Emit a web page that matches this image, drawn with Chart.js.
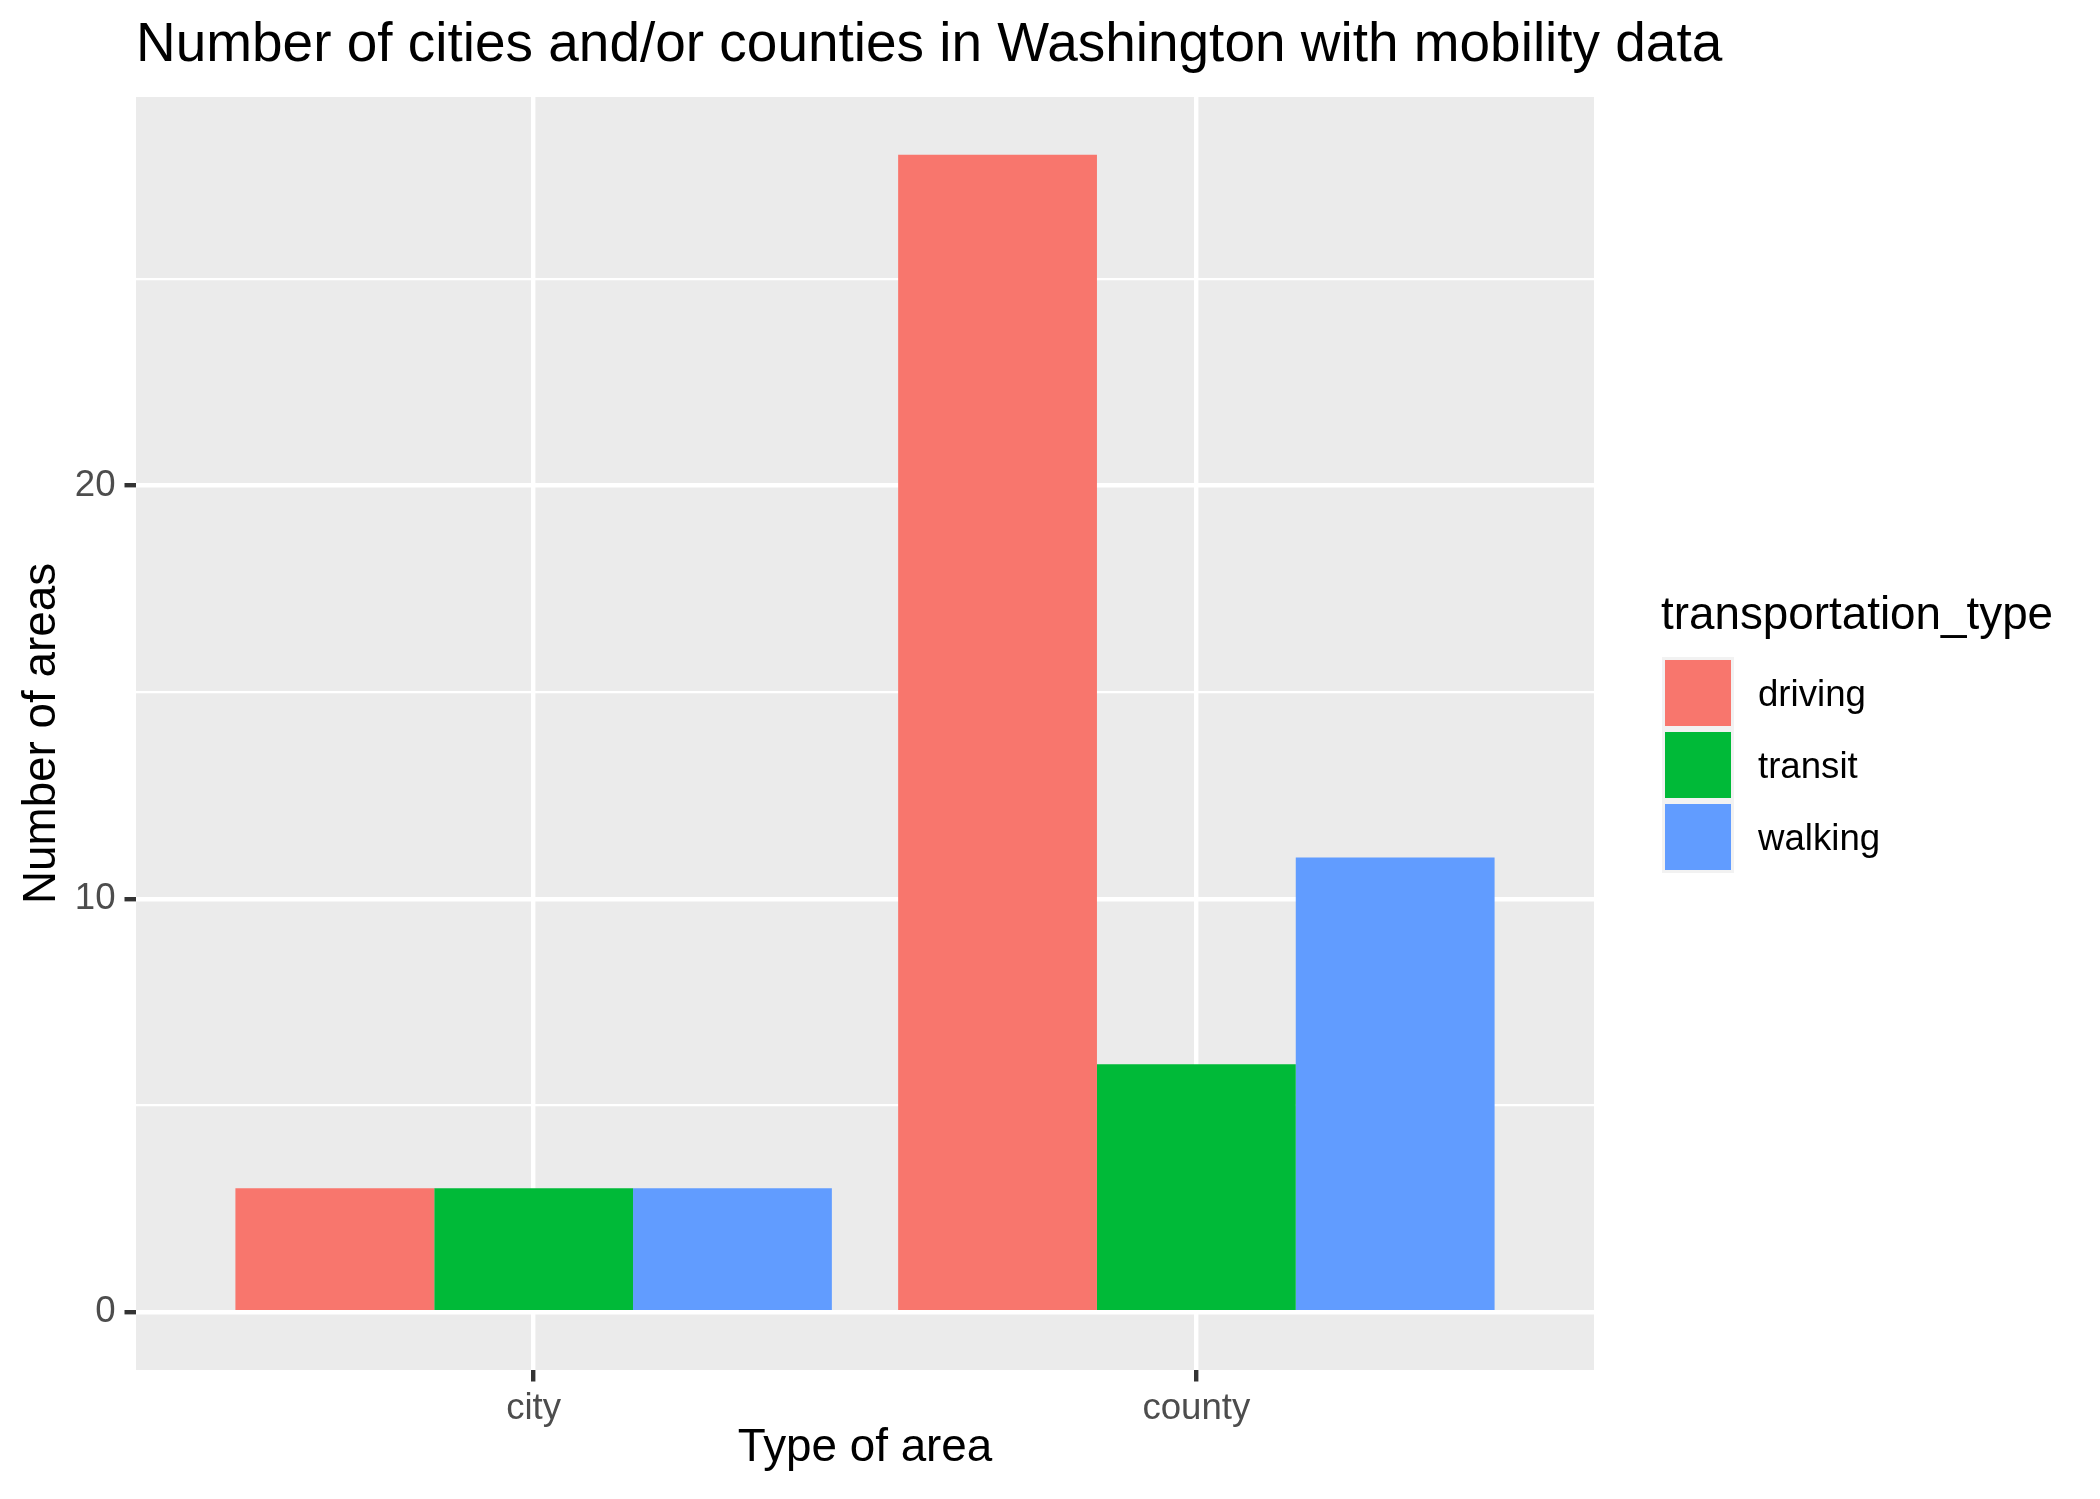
<!DOCTYPE html>
<html>
<head>
  <title>Washington mobility data</title>
  <script src="https://cdn.jsdelivr.net/npm/chart.js"></script>
  <style>
    body { margin: 0; background: white; }
    #wrap { width: 2100px; height: 1499px; }
  </style>
</head>
<body>
  <div id="wrap">
    <canvas id="chart" width="2100" height="1499"></canvas>
  </div>
  <script>
    // donnees
    var categories = ['city', 'county'];
    var seriesNames = ['driving', 'transit', 'walking'];
    var driving = [3, 28];
    var transit = [3, 6];
    var walking = [3, 11];
    var yTicks = [0, 5, 10, 15, 20, 25];
    var yLabels = [0, 10, 20];

    var titleText = 'Number of cities and/or counties in Washington with mobility data';
    var legendTitle = 'transportation_type';
    var colors = ['#F8766D', '#00BA38', '#619CFF'];
    var font = '"Liberation Sans", Arial, sans-serif';
    var base = 45.8;

    function toPoints(values) {
      return categories.map(function(c, i) { return { x: i + 1, y: values[i] }; });
    }

    var series = [driving, transit, walking];
    var datasets = seriesNames.map(function(name, i) {
      return {
        label: name,
        data: toPoints(series[i]),
        backgroundColor: colors[i],
        borderWidth: 0,
        categoryPercentage: 0.9,
        barPercentage: 1.0
      };
    });

    // fond gris du panneau
    var panelBg = {
      id: 'panelBg',
      beforeDraw: function(chart) {
        var a = chart.chartArea, ctx = chart.ctx;
        ctx.save();
        ctx.fillStyle = '#EBEBEB';
        ctx.fillRect(a.left, a.top, a.right - a.left, a.bottom - a.top);
        ctx.restore();
      }
    };

    // titre aligne sur le panneau + legende a la ggplot
    var ggText = {
      id: 'ggText',
      afterDraw: function(chart) {
        var a = chart.chartArea, ctx = chart.ctx;
        ctx.save();
        ctx.fillStyle = '#000';
        ctx.textAlign = 'left';
        ctx.textBaseline = 'alphabetic';
        ctx.font = (base * 1.2) + 'px ' + font;
        ctx.fillText(titleText, a.left, 61);

        var cy = (a.top + a.bottom) / 2;
        var x0 = a.right + 68;
        var top = cy - 76.5;
        ctx.font = base + 'px ' + font;
        ctx.fillText(legendTitle, x0 - 1, cy - 104.5);
        chart.data.datasets.forEach(function(ds, i) {
          var y = top + i * 72;
          ctx.fillStyle = '#F2F2F2';
          ctx.fillRect(x0, y, 72, 72);
          ctx.fillStyle = ds.backgroundColor;
          ctx.fillRect(x0 + 3, y + 3, 66, 66);
          ctx.fillStyle = '#000';
          ctx.font = (base * 0.8) + 'px ' + font;
          ctx.textBaseline = 'middle';
          ctx.fillText(ds.label, x0 + 96, y + 39);
        });
        ctx.restore();
      }
    };

    var chart = new Chart(document.getElementById('chart'), {
      type: 'bar',
      data: { datasets: datasets },
      plugins: [panelBg, ggText],
      options: {
        responsive: false,
        devicePixelRatio: 1,
        animation: false,
        layout: { padding: { left: 19, right: 506, top: 97, bottom: 0 } },
        plugins: {
          legend: { display: false },
          tooltip: { enabled: false },
          title: { display: false }
        },
        scales: {
          x: {
            type: 'linear',
            min: 0.4,
            max: 2.6,
            offset: false,
            afterBuildTicks: function(scale) {
              scale.ticks = categories.map(function(c, i) { return { value: i + 1 }; });
            },
            afterFit: function(scale) { scale.height = 129; },
            grid: {
              offset: false,
              color: '#FFFFFF',
              lineWidth: 4.4,
              tickColor: '#333333',
              tickWidth: 4.4,
              tickLength: 11.5
            },
            border: { display: false },
            ticks: {
              autoSkip: false,
              maxRotation: 0,
              padding: 5,
              color: '#4D4D4D',
              font: { family: font, size: base * 0.8 },
              callback: function(v) { return categories[v - 1]; }
            },
            title: {
              display: true,
              text: 'Type of area',
              color: '#000',
              font: { family: font, size: base, lineHeight: 1 },
              padding: { top: 0, bottom: 28 }
            }
          },
          y: {
            min: -1.4,
            max: 29.4,
            afterBuildTicks: function(scale) {
              scale.ticks = yTicks.map(function(v) { return { value: v }; });
            },
            afterFit: function(scale) { scale.width = 117; },
            grid: {
              color: '#FFFFFF',
              lineWidth: function(ctx) { return yLabels.indexOf(ctx.tick.value) >= 0 ? 4.4 : 2.2; },
              tickColor: function(ctx) { return yLabels.indexOf(ctx.tick.value) >= 0 ? '#333333' : 'rgba(0,0,0,0)'; },
              tickWidth: 4.4,
              tickLength: 11.5
            },
            border: { display: false },
            ticks: {
              autoSkip: false,
              padding: 9,
              color: '#4D4D4D',
              font: { family: font, size: base * 0.8 },
              callback: function(v) { return yLabels.indexOf(v) >= 0 ? v : ''; }
            },
            title: {
              display: true,
              text: 'Number of areas',
              color: '#000',
              font: { family: font, size: base, lineHeight: 1 },
              padding: { top: 0, bottom: 0 }
            }
          }
        }
      }
    });
  </script>
</body>
</html>
